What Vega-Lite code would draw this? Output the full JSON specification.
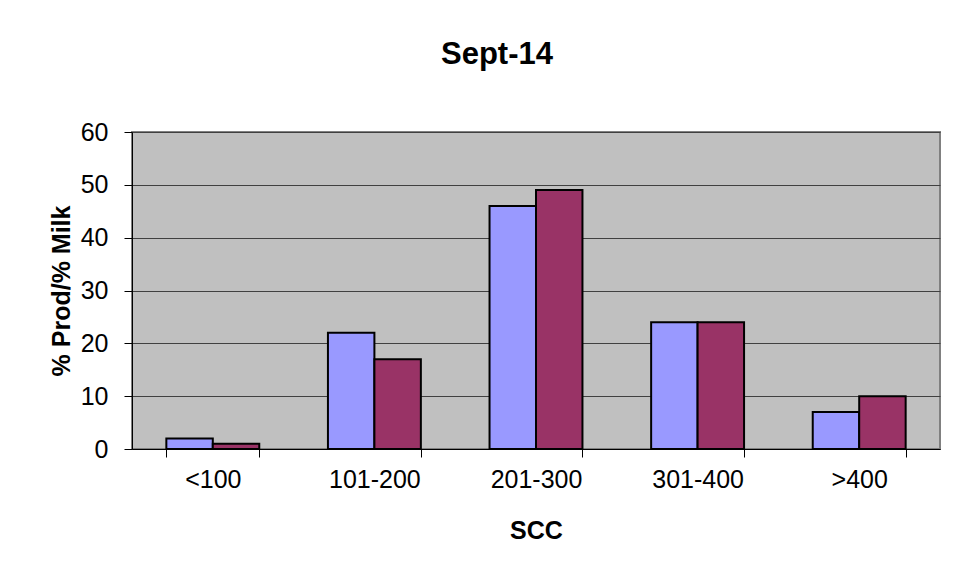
{
  "$schema": "https://vega.github.io/schema/vega-lite/v6.json",
  "autosize": "none",
  "width": 808,
  "height": 317,
  "padding": {"left": 132, "top": 132, "right": 16, "bottom": 122},
  "background": "white",
  "title": {
    "text": "Sept-14",
    "font": "Liberation Sans",
    "fontSize": 31,
    "fontWeight": "bold",
    "color": "black",
    "anchor": "middle",
    "dx": -39,
    "offset": 49
  },
  "data": {
    "values": [
      {"scc": "<100", "series": "% Prod", "value": 2},
      {"scc": "<100", "series": "% Milk", "value": 1},
      {"scc": "101-200", "series": "% Prod", "value": 22},
      {"scc": "101-200", "series": "% Milk", "value": 17},
      {"scc": "201-300", "series": "% Prod", "value": 46},
      {"scc": "201-300", "series": "% Milk", "value": 49},
      {"scc": "301-400", "series": "% Prod", "value": 24},
      {"scc": "301-400", "series": "% Milk", "value": 24},
      {"scc": ">400", "series": "% Prod", "value": 7},
      {"scc": ">400", "series": "% Milk", "value": 10}
    ]
  },
  "mark": {"type": "bar", "stroke": "black", "strokeWidth": 2, "cornerRadius": 0},
  "encoding": {
    "x": {
      "field": "scc",
      "type": "nominal",
      "sort": ["<100", "101-200", "201-300", "301-400", ">400"],
      "scale": {"paddingInner": 0.425, "paddingOuter": 0.2125},
      "axis": {
        "title": "SCC",
        "titleFont": "Liberation Sans",
        "titleFontSize": 25,
        "titleFontWeight": "bold",
        "titleColor": "black",
        "titlePadding": 26,
        "labelFont": "Liberation Sans",
        "labelFontSize": 25,
        "labelColor": "black",
        "labelAngle": 0,
        "labelPadding": 10,
        "tickBand": "extent",
        "tickSize": 8,
        "tickColor": "black",
        "domainColor": "black",
        "domainWidth": 1,
        "grid": false
      }
    },
    "xOffset": {
      "field": "series",
      "type": "nominal",
      "sort": ["% Prod", "% Milk"],
      "scale": {"paddingInner": 0, "paddingOuter": 0}
    },
    "y": {
      "field": "value",
      "type": "quantitative",
      "scale": {"domain": [0, 60], "nice": false},
      "axis": {
        "title": "% Prod/% Milk",
        "titleFont": "Liberation Sans",
        "titleFontSize": 25,
        "titleFontWeight": "bold",
        "titleColor": "black",
        "titlePadding": 6,
        "labelFont": "Liberation Sans",
        "labelFontSize": 25,
        "labelColor": "black",
        "labelPadding": 16,
        "values": [0, 10, 20, 30, 40, 50, 60],
        "tickSize": 8,
        "tickColor": "black",
        "domainColor": "black",
        "grid": true,
        "gridColor": "#404040",
        "gridWidth": 1
      }
    },
    "color": {
      "field": "series",
      "type": "nominal",
      "scale": {"domain": ["% Prod", "% Milk"], "range": ["#9999FF", "#993366"]},
      "legend": null
    }
  },
  "config": {
    "view": {"fill": "#C0C0C0", "stroke": "#808080", "strokeWidth": 2}
  }
}
